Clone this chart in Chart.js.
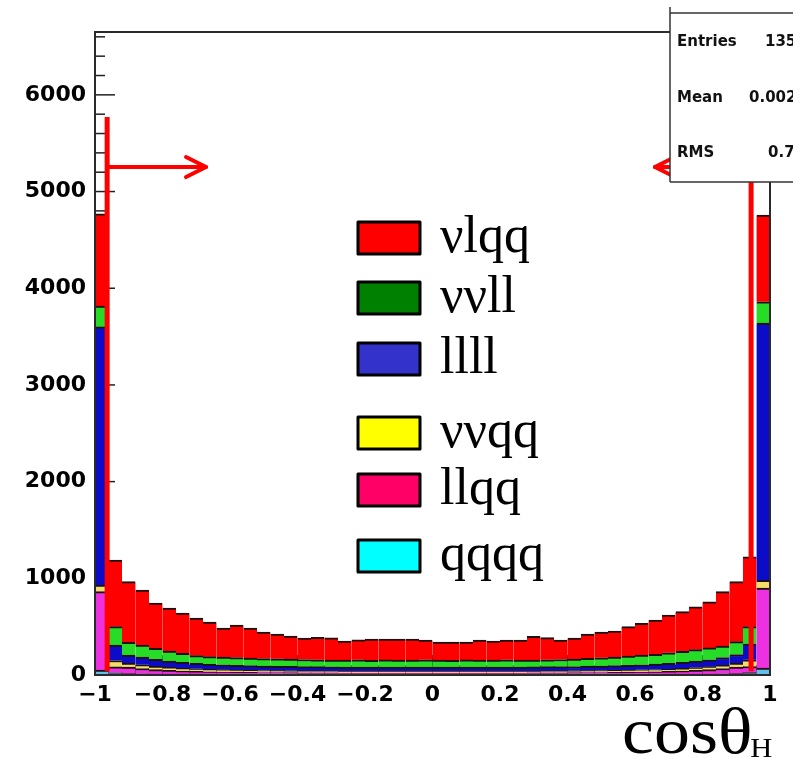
<!DOCTYPE html>
<html><head><meta charset="utf-8">
<script src="https://cdn.jsdelivr.net/npm/chart.js@4/dist/chart.umd.min.js"></script>
<style>html,body{margin:0;padding:0;background:#fff}canvas{display:block}</style>
</head><body>
<canvas id="c" width="808" height="758"></canvas>
<script>
// bin centres of cos(theta_H), 50 bins
const categories = [-0.98,-0.94,-0.90,-0.86,-0.82,-0.78,-0.74,-0.70,-0.66,-0.62,-0.58,-0.54,-0.50,-0.46,-0.42,-0.38,-0.34,-0.30,-0.26,-0.22,-0.18,-0.14,-0.10,-0.06,-0.02,
  0.02,0.06,0.10,0.14,0.18,0.22,0.26,0.30,0.34,0.38,0.42,0.46,0.50,0.54,0.58,0.62,0.66,0.70,0.74,0.78,0.82,0.86,0.90,0.94,0.98];

// stacked components, bottom to top
const qqqq = [52,22,14,12,10,10,9,9,8,8, 8,8,7,7,7,7,7,7,6,6, 6,6,6,6,6,6,6,6,6,6, 6,6,7,7,7,7,7,7,8,8, 8,8,9,9,10,10,12,14,24,72];
const llqq = [810,62,68,55,45,38,32,28,25,23, 21,20,19,18,17,16,16,15,15,15, 15,15,15,15,15,15,15,15,15,15, 15,15,15,16,16,17,18,19,20,21, 23,25,28,32,38,45,55,68,64,828];
const nnqq = [68,66,42,38,34,31,29,27,25,24, 23,22,21,20,20,19,19,19,18,18, 18,18,18,18,18,18,18,18,18,18, 18,18,18,19,19,19,20,20,21,22, 23,24,25,27,29,31,34,40,70,80];
const llll = [2670,160,83,80,72,65,60,56,53,50, 48,47,46,45,45,44,44,44,44,44, 44,44,44,44,44,44,44,44,44,44, 44,44,44,44,45,45,46,47,48,50, 52,55,58,62,66,72,80,90,165,2660];
const nnll = [215,190,131,125,115,104,94,80,79,80, 80,78,77,78,76,74,71,70,72,74, 70,73,71,72,74,71,70,73,72,71, 74,72,71,71,73,77,81,85,88,94, 101,103,110,115,119,122,119,133,177,220];
const nlqq = [955,689,627,569,469,445,417,389,358,301, 337,311,275,256,238,223,233,230,196,208, 219,216,218,217,205,187,188,185,207,196, 205,207,245,229,202,218,252,267,270,305, 328,354,390,410,444,478,562,620,723,897];

const seriesNames  = ['qqqq','llqq','ννqq','llll','ννll','νlqq'];
const seriesData   = [qqqq, llqq, nnqq, llll, nnll, nlqq];
const barColors    = ['#62c0ea','#ec30e2','#f6dc6a','#0c0cc8','#26dc26','#ff0000'];
const legendColors = ['#00ffff','#ff0066','#ffff00','#3333cc','#008000','#ff0000'];

const xTickValues = [-1,-0.8,-0.6,-0.4,-0.2,0,0.2,0.4,0.6,0.8,1];
const xTickLabels = ['\u22121','\u22120.8','\u22120.6','\u22120.4','\u22120.2','0','0.2','0.4','0.6','0.8','1'];
const yTickValues = [0,1000,2000,3000,4000,5000,6000];
const yTickLabels = ['0','1000','2000','3000','4000','5000','6000'];

// cut markers
const cutPositions = [-0.964, 0.944];
const arrowEnds    = [-0.671, 0.659];
const cutLineTop = 5770, cutLineBottom = 40, arrowLevel = 5253;

const statsNames  = ['Entries','Mean','RMS'];
const statsValues = ['135','0.002','0.7'];

const datasets = seriesNames.map((name, k) => ({
  label: name,
  data: categories.map((c, i) => ({x: c, y: seriesData[k][i]})),
  backgroundColor: barColors[k],
  borderColor: '#1c1010',
  borderWidth: {top: 2, left: 0, right: 0, bottom: 0},
  borderSkipped: false,
  barPercentage: 1,
  categoryPercentage: 1
}));

function seg(ctx, x0, y0, x1, y1){ ctx.beginPath(); ctx.moveTo(x0, y0); ctx.lineTo(x1, y1); ctx.stroke(); }

const decor = {
  id: 'decor',
  beforeDatasetsDraw(chart){
    const {ctx, chartArea: a, scales: {x, y}} = chart;
    ctx.save();
    ctx.strokeStyle = '#222'; ctx.lineWidth = 1.5;
    for (let v = 0; v <= y.max; v += 200) {
      const py = y.getPixelForValue(v);
      seg(ctx, a.left, py, a.left + (v % 1000 === 0 ? 20 : 10), py);
    }
    for (let k = 0; k <= 50; k++) {
      const px = x.getPixelForValue(-1 + k * 0.04);
      seg(ctx, px, a.bottom, px, a.bottom - (k % 5 === 0 ? 20 : 10));
    }
    ctx.restore();
  },
  afterDatasetsDraw(chart){
    const {ctx, chartArea: a, scales: {x, y}} = chart;
    ctx.save();
    // frame
    ctx.strokeStyle = '#2a2a2a'; ctx.lineWidth = 2;
    ctx.strokeRect(a.left, a.top, a.right - a.left, a.bottom - a.top);

    // cut lines + arrows
    ctx.strokeStyle = '#ff0000'; ctx.lineCap = 'butt';
    for (let k = 0; k < cutPositions.length; k++) {
      const px = x.getPixelForValue(cutPositions[k]);
      ctx.lineWidth = 5;
      seg(ctx, px, y.getPixelForValue(cutLineTop), px, y.getPixelForValue(cutLineBottom));
      const ex = x.getPixelForValue(arrowEnds[k]);
      const py = y.getPixelForValue(arrowLevel);
      ctx.lineWidth = 4; ctx.lineCap = 'round'; ctx.lineJoin = 'round';
      seg(ctx, px, py, ex, py);
      const dir = Math.sign(ex - px);
      ctx.beginPath(); ctx.moveTo(ex - dir * 20, py - 10); ctx.lineTo(ex, py); ctx.lineTo(ex - dir * 20, py + 10); ctx.stroke();
      ctx.lineCap = 'butt';
    }

    // legend
    const lx = 358, lw = 62, lh = 32;
    const rows = [222, 282, 343, 417, 474, 540];
    ctx.font = '52px "Liberation Serif", "Times New Roman", serif';
    ctx.textBaseline = 'alphabetic'; ctx.textAlign = 'left';
    for (let r = 0; r < 6; r++) {
      const k = 5 - r;
      ctx.fillStyle = legendColors[k];
      ctx.fillRect(lx, rows[r], lw, lh);
      ctx.strokeStyle = '#000'; ctx.lineWidth = 3;
      ctx.strokeRect(lx, rows[r], lw, lh);
      ctx.fillStyle = '#000';
      ctx.fillText(seriesNames[k], 440, rows[r] + 30);
    }

    // stats box (cut at the image edge)
    ctx.beginPath(); ctx.rect(0, 0, 793, 758); ctx.clip();
    ctx.fillStyle = '#fff';
    ctx.fillRect(670, 13, 140, 169);
    ctx.strokeStyle = '#333'; ctx.lineWidth = 1.5;
    seg(ctx, 670, 7, 670, 182); seg(ctx, 670, 13, 808, 13); seg(ctx, 670, 182, 808, 182);
    ctx.fillStyle = '#111';
    ctx.font = 'bold 15px "DejaVu Sans", sans-serif';
    const sy = [46, 102, 157];
    const vx = [765, 749, 768];
    for (let i = 0; i < 3; i++) {
      ctx.fillText(statsNames[i], 677, sy[i]);
      ctx.fillText(statsValues[i], vx[i], sy[i]);
    }
    ctx.restore();

    // axis title (slightly widened like the original rendering)
    ctx.save();
    ctx.fillStyle = '#000';
    ctx.textAlign = 'left'; ctx.textBaseline = 'alphabetic';
    ctx.translate(622, 0); ctx.scale(1.09, 1);
    ctx.font = '66px "Liberation Serif", "Times New Roman", serif';
    ctx.fillText('cos\u03b8', 0, 753);
    const w = ctx.measureText('cos\u03b8').width;
    ctx.font = '28px "Liberation Serif", "Times New Roman", serif';
    ctx.fillText('H', w - 2, 757);
    ctx.restore();
  }
};

new Chart(document.getElementById('c'), {
  type: 'bar',
  data: {datasets},
  plugins: [decor],
  options: {
    responsive: false,
    animation: false,
    layout: {padding: {top: 32, right: 38, left: 0, bottom: 0}},
    plugins: {legend: {display: false}, tooltip: {enabled: false}, title: {display: false}},
    scales: {
      x: {
        type: 'linear', min: -1, max: 1, offset: false, stacked: true,
        grid: {display: false, drawTicks: false},
        border: {display: false},
        afterBuildTicks: (s) => { s.ticks = xTickValues.map(v => ({value: v})); },
        ticks: {
          autoSkip: false, maxRotation: 0, padding: 7, color: '#000',
          font: {family: '"DejaVu Sans", sans-serif', weight: 'bold', size: 22},
          callback: (v, i) => xTickLabels[i]
        },
        afterFit: (s) => { s.height = 83; }
      },
      y: {
        min: 0, max: 6650, stacked: true,
        grid: {display: false, drawTicks: false},
        border: {display: false},
        afterBuildTicks: (s) => { s.ticks = yTickValues.map(v => ({value: v})); },
        ticks: {
          autoSkip: false, padding: 9, color: '#000',
          font: {family: '"DejaVu Sans", sans-serif', weight: 'bold', size: 22},
          callback: (v, i) => yTickLabels[i]
        },
        afterFit: (s) => { s.width = 95; }
      }
    }
  }
});
</script>
</body></html>
